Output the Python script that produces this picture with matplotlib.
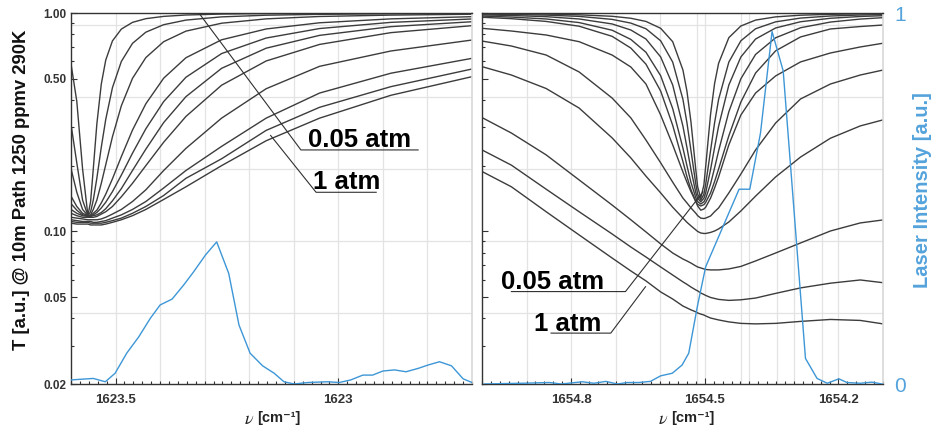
import matplotlib
matplotlib.use("Agg")
import matplotlib.pyplot as plt
from matplotlib.ticker import FixedLocator, NullFormatter

plt.rcParams['font.family'] = ['Liberation Sans', 'DejaVu Sans']
plt.rcParams['mathtext.fontset'] = 'stix'

# ---------------- data ----------------
# left panel: transmission curves, 0.05 atm (TL01) ... 1 atm (TL11)
nu_left = [1623.600, 1623.587, 1623.574, 1623.562, 1623.556, 1623.550, 1623.542, 1623.532,
           1623.522, 1623.507, 1623.487, 1623.462, 1623.432, 1623.392, 1623.342, 1623.262,
           1623.162, 1623.042, 1622.882, 1622.700]
TL01 = [0.585, 0.394, 0.193, 0.118, 0.137, 0.193, 0.310, 0.473, 0.609, 0.745, 0.844, 0.906,
        0.942, 0.965, 0.979, 0.989, 0.994, 0.996, 0.998, 0.999]
TL02 = [0.309, 0.206, 0.139, 0.118, 0.123, 0.139, 0.175, 0.243, 0.326, 0.455, 0.600, 0.726,
        0.817, 0.884, 0.928, 0.960, 0.977, 0.986, 0.992, 0.995]
TL03 = [0.194, 0.151, 0.126, 0.118, 0.119, 0.126, 0.139, 0.166, 0.202, 0.271, 0.376, 0.502,
        0.625, 0.739, 0.826, 0.898, 0.940, 0.964, 0.978, 0.987]
TL04 = [0.145, 0.130, 0.121, 0.118, 0.118, 0.121, 0.125, 0.135, 0.148, 0.174, 0.220, 0.291,
        0.384, 0.503, 0.624, 0.754, 0.845, 0.902, 0.940, 0.962]
TL05 = [0.134, 0.125, 0.119, 0.118, 0.118, 0.119, 0.122, 0.128, 0.136, 0.152, 0.181, 0.228,
        0.295, 0.393, 0.508, 0.652, 0.768, 0.849, 0.906, 0.939]
TL06 = [0.126, 0.121, 0.118, 0.117, 0.117, 0.118, 0.119, 0.122, 0.127, 0.138, 0.157, 0.190,
        0.238, 0.315, 0.414, 0.558, 0.690, 0.790, 0.866, 0.912]
TL07 = [0.121, 0.118, 0.116, 0.116, 0.116, 0.116, 0.117, 0.120, 0.123, 0.130, 0.144, 0.166,
        0.200, 0.256, 0.336, 0.467, 0.603, 0.718, 0.813, 0.875]
TL08 = [0.116, 0.115, 0.114, 0.113, 0.113, 0.113, 0.113, 0.114, 0.116, 0.120, 0.126, 0.137,
        0.155, 0.190, 0.240, 0.330, 0.450, 0.570, 0.670, 0.752]
TL09 = [0.113, 0.112, 0.111, 0.111, 0.111, 0.110, 0.110, 0.111, 0.112, 0.115, 0.119, 0.126,
        0.137, 0.158, 0.190, 0.245, 0.330, 0.430, 0.530, 0.620]
TL10 = [0.111, 0.110, 0.110, 0.110, 0.109, 0.109, 0.109, 0.109, 0.110, 0.112, 0.115, 0.121,
        0.130, 0.146, 0.175, 0.215, 0.290, 0.370, 0.460, 0.554]
TL11 = [0.109, 0.108, 0.108, 0.108, 0.107, 0.107, 0.107, 0.107, 0.108, 0.110, 0.113, 0.118,
        0.126, 0.140, 0.160, 0.200, 0.260, 0.330, 0.420, 0.511]

# right panel: transmission curves, 0.05 atm (TR01) ... 1 atm (TR11)
nu_right = [1655.000, 1654.934, 1654.856, 1654.782, 1654.708, 1654.666, 1654.632, 1654.599,
            1654.572, 1654.549, 1654.540, 1654.531, 1654.520, 1654.516, 1654.509, 1654.502,
            1654.498, 1654.487, 1654.478, 1654.469, 1654.446, 1654.419, 1654.386, 1654.341,
            1654.285, 1654.218, 1654.151, 1654.100]
TR01 = [0.994, 0.993, 0.989, 0.981, 0.966, 0.946, 0.915, 0.851, 0.739, 0.548, 0.438, 0.317,
        0.190, 0.160, 0.142, 0.163, 0.198, 0.344, 0.475, 0.588, 0.771, 0.872, 0.928, 0.960,
        0.977, 0.986, 0.991, 0.993]
TR02 = [0.989, 0.985, 0.978, 0.965, 0.935, 0.899, 0.847, 0.746, 0.596, 0.402, 0.314, 0.2345,
        0.164, 0.148, 0.139, 0.148, 0.164, 0.2345, 0.314, 0.402, 0.596, 0.746, 0.847, 0.911,
        0.948, 0.969, 0.979, 0.984]
TR03 = [0.980, 0.974, 0.962, 0.939, 0.891, 0.836, 0.760, 0.629, 0.468, 0.303, 0.242, 0.192,
        0.150, 0.1418, 0.1365, 0.1418, 0.150, 0.192, 0.242, 0.303, 0.468, 0.629, 0.760, 0.854,
        0.912, 0.946, 0.964, 0.972]
TR04 = [0.968, 0.958, 0.939, 0.904, 0.834, 0.757, 0.661, 0.516, 0.365, 0.2405, 0.1998, 0.1675,
        0.1424, 0.1368, 0.1335, 0.1365, 0.1415, 0.1649, 0.1952, 0.2335, 0.353, 0.500, 0.646,
        0.770, 0.856, 0.909, 0.938, 0.952]
TR05 = [0.956, 0.942, 0.915, 0.870, 0.782, 0.691, 0.583, 0.439, 0.306, 0.2085, 0.178, 0.155,
        0.137, 0.133, 0.1307, 0.1325, 0.1357, 0.150, 0.169, 0.193, 0.274, 0.391, 0.531, 0.671,
        0.777, 0.845, 0.867, 0.881]
TR06 = [0.851, 0.827, 0.793, 0.739, 0.642, 0.566, 0.473, 0.341, 0.249, 0.187, 0.168, 0.152,
        0.1365, 0.1307, 0.125, 0.1266, 0.129, 0.142, 0.158, 0.1775, 0.249, 0.341, 0.430, 0.515,
        0.597, 0.656, 0.699, 0.727]
TR07 = [0.744, 0.706, 0.642, 0.537, 0.408, 0.331, 0.262, 0.206, 0.168, 0.142, 0.135, 0.128,
        0.121, 0.118, 0.115, 0.1145, 0.115, 0.1176, 0.123, 0.128, 0.150, 0.183, 0.236, 0.3135,
        0.404, 0.473, 0.520, 0.548]
TR08 = [0.568, 0.520, 0.451, 0.367, 0.268, 0.217, 0.179, 0.150, 0.129, 0.115, 0.110, 0.106,
        0.1015, 0.0999, 0.0983, 0.0978, 0.0978, 0.0989, 0.1004, 0.1026, 0.1104, 0.124, 0.145,
        0.1775, 0.219, 0.267, 0.304, 0.324]
TR09 = [0.332, 0.282, 0.224, 0.172, 0.132, 0.113, 0.0994, 0.0876, 0.0796, 0.0747, 0.0732,
        0.0716, 0.0694, 0.0687, 0.0680, 0.0673, 0.0669, 0.0666, 0.0666, 0.0666, 0.0673, 0.0691,
        0.0732, 0.0796, 0.0885, 0.1004, 0.1093, 0.1128]
TR10 = [0.236, 0.201, 0.156, 0.123, 0.0973, 0.0848, 0.0763, 0.0687, 0.0631, 0.0587, 0.0572,
        0.0556, 0.0539, 0.0534, 0.0522, 0.0514, 0.0509, 0.0498, 0.0493, 0.0488, 0.0483, 0.0486,
        0.0495, 0.0520, 0.0551, 0.0579, 0.0599, 0.0582]
TR11 = [0.188, 0.160, 0.123, 0.0963, 0.0755, 0.0659, 0.0593, 0.0528, 0.0490, 0.0455, 0.0446,
        0.0437, 0.0428, 0.0423, 0.0418, 0.0414, 0.0410, 0.0401, 0.0397, 0.0393, 0.0385, 0.0379,
        0.0377, 0.0379, 0.0387, 0.0395, 0.0391, 0.0377]

# laser intensity (blue), normalised 0..1
nu_laser_left = [1623.600, 1623.550, 1623.523, 1623.501, 1623.475, 1623.448, 1623.422, 1623.400,
                 1623.373, 1623.347, 1623.325, 1623.298, 1623.273, 1623.246, 1623.223, 1623.198,
                 1623.170, 1623.144, 1623.122, 1623.099, 1623.069, 1623.024, 1622.998, 1622.972,
                 1622.945, 1622.923, 1622.900, 1622.874, 1622.848, 1622.821, 1622.799, 1622.773,
                 1622.746, 1622.720, 1622.700]
I_left = [0.011, 0.015, 0.006, 0.029, 0.083, 0.127, 0.177, 0.213, 0.229, 0.267, 0.302, 0.348,
          0.383, 0.298, 0.159, 0.083, 0.049, 0.029, 0.006, 0.000, 0.004, 0.006, 0.004, 0.011,
          0.024, 0.024, 0.035, 0.038, 0.033, 0.042, 0.051, 0.060, 0.049, 0.014, 0.004]
nu_laser_right = [1654.995, 1654.957, 1654.909, 1654.849, 1654.822, 1654.775, 1654.749,
                  1654.722, 1654.696, 1654.674, 1654.648, 1654.622, 1654.599, 1654.573,
                  1654.551, 1654.536, 1654.516, 1654.498, 1654.423, 1654.399, 1654.375,
                  1654.349, 1654.324, 1654.274, 1654.248, 1654.225, 1654.199, 1654.181,
                  1654.151, 1654.125, 1654.102]
I_right = [0.000, 0.001, 0.002, 0.004, 0.000, 0.006, 0.002, 0.007, 0.000, 0.004, 0.004, 0.007,
           0.022, 0.029, 0.051, 0.083, 0.213, 0.316, 0.525, 0.525, 0.676, 0.950, 0.844, 0.069,
           0.015, 0.002, 0.014, 0.004, 0.002, 0.005, 0.000]

left_curves = [TL01, TL02, TL03, TL04, TL05, TL06, TL07, TL08, TL09, TL10, TL11]
right_curves = [TR01, TR02, TR03, TR04, TR05, TR06, TR07, TR08, TR09, TR10, TR11]

y_ticks = [0.02, 0.05, 0.1, 0.5, 1.0]
y_ticklabels = ['0.02', '0.05', '0.10', '0.50', '1.00']

# ---------------- figure ----------------
W, H = 936, 436
fig = plt.figure(figsize=(W / 100, H / 100), dpi=100)

DARK = '#333333'
GRID = '#e3e3e3'
CURVE = '#3c3c3c'
BLUE = '#3d96d6'
BLUE_TXT = '#55a3dc'


def box(x0, y0, x1, y1):
    return [x0 / W, 1 - y1 / H, (x1 - x0) / W, (y1 - y0) / H]


def setup(ax, xlim, xmajor, xlabels, xminor, vgrid, show_ylabels):
    ax.set_yscale('log')
    ax.set_ylim(0.02, 1.0)
    ax.set_xlim(*xlim)
    ax.yaxis.set_major_locator(FixedLocator(y_ticks))
    ax.set_yticklabels(y_ticklabels if show_ylabels else [])
    ax.yaxis.set_minor_locator(FixedLocator([0.03, 0.04, 0.06, 0.07, 0.08, 0.09,
                                             0.2, 0.3, 0.4, 0.6, 0.7, 0.8, 0.9]))
    ax.yaxis.set_minor_formatter(NullFormatter())
    ax.xaxis.set_major_locator(FixedLocator(xmajor))
    ax.set_xticklabels(xlabels)
    ax.xaxis.set_minor_locator(FixedLocator(xminor))
    ax.tick_params(which='both', direction='in', color=DARK, width=0.8, labelcolor=DARK)
    ax.tick_params(which='major', length=4)
    ax.tick_params(which='minor', length=2)
    ax.tick_params(axis='x', pad=7)
    ax.tick_params(axis='y', pad=3)
    for lab in ax.get_xticklabels():
        lab.set_fontweight('bold')
        lab.set_fontsize(9.5)
    for lab in ax.get_yticklabels():
        lab.set_fontweight('bold')
        lab.set_fontsize(8.5)
    for s in ['left', 'bottom', 'top']:
        ax.spines[s].set_color(DARK)
        ax.spines[s].set_linewidth(1.0)
    ax.spines['right'].set_color('#d8d8d8')
    ax.spines['right'].set_linewidth(1.2)
    for x in vgrid:
        ax.axvline(x, color=GRID, lw=0.9, zorder=0.5)
    for f in [0.9677, 0.7736, 0.5795, 0.3854, 0.1914]:
        ax.plot([0, 1], [f, f], transform=ax.transAxes, color=GRID, lw=0.9, zorder=0.5)


# ---- left panel ----
axL = fig.add_axes(box(71, 13, 472, 384))
setup(axL, (1623.6, 1622.7), [1623.5, 1623.0], ['1623.5', '1623'],
      [1623.6 - 0.02 * i for i in range(46)],
      [1623.5, 1623.4, 1623.3, 1623.2, 1623.1, 1623.0, 1622.9, 1622.8], True)
for T in left_curves:
    axL.plot(nu_left, T, color=CURVE, lw=1.0, zorder=2)
axL2 = axL.twinx()
axL2.set_ylim(0, 1)
axL2.set_yticks([])
for s in axL2.spines.values():
    s.set_visible(False)
axL2.plot(nu_laser_left, I_left, color=BLUE, lw=1.0)

# ---- right panel ----
axR = fig.add_axes(box(482, 13, 883, 384))
setup(axR, (1655.0, 1654.1), [1654.8, 1654.5, 1654.2], ['1654.8', '1654.5', '1654.2'],
      [1655.0 - 0.02 * i for i in range(46)],
      [1654.9, 1654.8, 1654.7, 1654.6, 1654.5, 1654.4, 1654.3, 1654.2,
       1654.518, 1654.418, 1654.338, 1654.236], False)
axR.tick_params(axis='y', which='both', right=True)
for T in right_curves:
    axR.plot(nu_right, T, color=CURVE, lw=1.0, zorder=2)
axR2 = axR.twinx()
axR2.set_ylim(0, 1)
axR2.set_yticks([0, 1])
axR2.set_yticklabels(['0', '1'])
axR2.tick_params(axis='y', length=0, pad=8, labelcolor=BLUE_TXT, labelsize=15)
for s in axR2.spines.values():
    s.set_visible(False)
axR2.plot(nu_laser_right, I_right, color=BLUE, lw=1.0)

# ---- pressure annotations ----
ann = dict(color='#303030', lw=0.8, zorder=3)
txt = dict(fontweight='bold', fontsize=18.5, color='black',
           ha='left', va='baseline', zorder=4)
axL.plot([1623.313, 1623.084, 1622.821], [1.0, 0.236, 0.236], **ann)
axL.text(1623.068, 0.243, '0.05 atm', **txt)
axL.plot([1623.152, 1623.050, 1622.915], [0.275, 0.151, 0.151], **ann)
axL.text(1623.057, 0.156, '1 atm', **txt)

axR.plot([1654.934, 1654.678, 1654.504], [0.053, 0.053, 0.1515], **ann)
axR.text(1654.957, 0.0546, '0.05 atm', **txt)
axR.plot([1654.845, 1654.711, 1654.633], [0.0342, 0.0342, 0.0558], **ann)
axR.text(1654.883, 0.0349, '1 atm', **txt)

# ---- axis labels ----
fig.text(22 / W, 1 - 190 / H, 'T [a.u.] @ 10m Path 1250 ppmv 290K', rotation=90,
         ha='center', va='center', fontweight='bold', fontsize=13.3, color='#111111')
fig.text(923 / W, 1 - 190 / H, 'Laser Intensity [a.u.]', rotation=90,
         ha='center', va='center', fontweight='bold', fontsize=14.5, color=BLUE_TXT)
for xc in (254, 668):
    fig.text(xc / W, 1 - 419 / H, r'$\nu$', ha='right', va='center', fontsize=13,
             color='#222222')
    fig.text((xc + 3) / W, 1 - 418 / H, '[cm\u207b\u00b9]', ha='left', va='center',
             fontweight='bold', fontsize=10.5, color='#222222')

fig.savefig('out.png', dpi=100, facecolor='white')
